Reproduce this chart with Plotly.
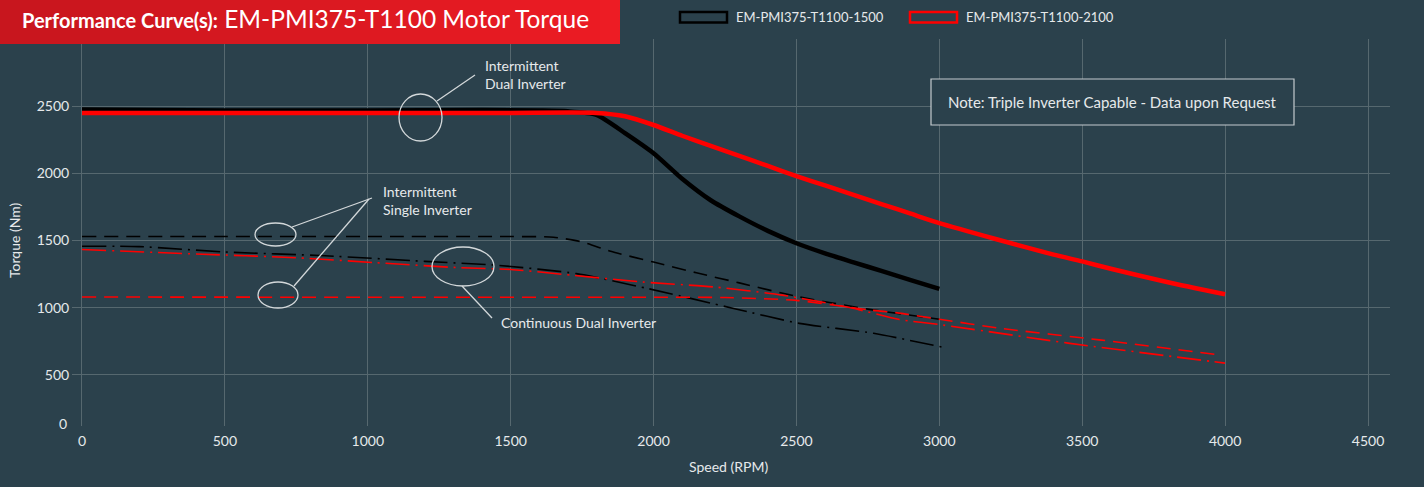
import plotly.graph_objects as go

# ---------------- data ----------------
speed_int_dual_1500 = [0, 250, 500, 1000, 1400, 1600, 1700, 1800, 1900, 2000, 2100, 2200, 2300, 2400, 2500, 2600, 2700, 2800, 2900, 3000]
torque_int_dual_1500 = [2475, 2472, 2468, 2468, 2472, 2468, 2462, 2435, 2300, 2150, 1960, 1800, 1680, 1572, 1480, 1405, 1338, 1272, 1205, 1140]

speed_int_dual_2100 = [0, 500, 1000, 1500, 1800, 1900, 2000, 2100, 2200, 2300, 2400, 2500, 2600, 2700, 2800, 2900, 3000, 3200, 3400, 3500, 3600, 3800, 4000]
torque_int_dual_2100 = [2450, 2450, 2450, 2450, 2450, 2425, 2360, 2280, 2205, 2130, 2055, 1980, 1910, 1840, 1770, 1700, 1630, 1510, 1395, 1345, 1290, 1190, 1100]

speed_int_single_1500 = [0, 500, 1000, 1500, 1650, 1750, 1850, 2000, 2150, 2300, 2500, 2750, 3000]
torque_int_single_1500 = [1530, 1530, 1530, 1530, 1525, 1490, 1420, 1340, 1260, 1185, 1085, 990, 915]

speed_int_single_2100 = [0, 1000, 2000, 2250, 2500, 2750, 2860, 3000, 3210, 3560, 3970]
torque_int_single_2100 = [1080, 1078, 1078, 1076, 1055, 985, 960, 915, 848, 761, 652]

speed_cont_dual_1500 = [0, 200, 500, 850, 1200, 1460, 1730, 1980, 2280, 2510, 2770, 3010]
torque_cont_dual_1500 = [1458, 1455, 1415, 1387, 1345, 1315, 1254, 1143, 995, 884, 810, 707]

speed_cont_dual_2100 = [0, 400, 750, 1030, 1320, 1500, 1720, 1960, 2210, 2450, 2690, 2860, 3000, 3450, 3950, 4000]
torque_cont_dual_2100 = [1433, 1400, 1372, 1335, 1298, 1285, 1241, 1192, 1155, 1094, 1000, 912, 875, 737, 601, 588]

x_ticks = [0, 500, 1000, 1500, 2000, 2500, 3000, 3500, 4000, 4500]
y_ticks = [500, 1000, 1500, 2000, 2500, 3000]
y_tick_text = ["500", "1000", "1500", "2000", "2500", ""]

legend_names = ["EM-PMI375-T1100-1500", "EM-PMI375-T1100-2100"]

# ---------------- style ----------------
BG = "#2b414c"
GRID = "#56686f"
TXT = "#e6e9eb"
ANN = "#d3d8da"
FONT = "Lato"
W, H = 1424, 487
L, R, T, B = 82, 1390, 39, 426


def PX(x):
    return (x - L) / (R - L)


def PY(y):
    return (B - y) / (B - T)


fig = go.Figure()

def add(xs, ys, color, width, dash="solid"):
    fig.add_trace(go.Scatter(x=xs, y=ys, mode="lines", showlegend=False,
                             line=dict(color=color, width=width, dash=dash, shape="spline", smoothing=0.6),
                             hoverinfo="skip"))

DASH = "14px,8px"
DASHDOT = "24px,6px,2px,6px"
add(speed_int_single_1500, torque_int_single_1500, "#000000", 1.6, DASH)
add(speed_cont_dual_1500, torque_cont_dual_1500, "#000000", 1.6, DASHDOT)
add(speed_int_single_2100, torque_int_single_2100, "#ff0000", 1.6, DASH)
add(speed_cont_dual_2100, torque_cont_dual_2100, "#ff0000", 1.6, DASHDOT)
add(speed_int_dual_1500, torque_int_dual_1500, "#000000", 4.5)
add(speed_int_dual_2100, torque_int_dual_2100, "#ff0000", 4.5)

shapes = []
annotations = []

# title bar gradient
n = 31
for i in range(n):
    t = i / (n - 1)
    r = int(200 + (237 - 200) * t)
    g = int(22 + (28 - 22) * t)
    b = int(30 + (36 - 30) * t)
    shapes.append(dict(type="rect", xref="paper", yref="paper",
                       x0=PX(i * 20), x1=PX(min(620, i * 20 + 21)), y0=PY(44), y1=PY(0),
                       fillcolor=f"rgb({r},{g},{b})", line=dict(width=0), layer="above"))
annotations.append(dict(xref="paper", yref="paper", x=PX(20), y=PY(19), xanchor="left", yanchor="middle",
                        text="<b><span style='font-size:20px'>Performance Curve(s):</span></b>"
                             "<span style='font-size:24.5px'> EM-PMI375-T1100 Motor Torque</span>",
                        showarrow=False, font=dict(family=FONT, size=23, color="#ffffff")))

# legend (manual)
for (x0, col, name) in [(680, "#000000", legend_names[0]), (910, "#ff0000", legend_names[1])]:
    shapes.append(dict(type="rect", xref="paper", yref="paper", x0=PX(x0), x1=PX(x0 + 47),
                       y0=PY(22.5), y1=PY(12), line=dict(color=col, width=2.5), fillcolor=BG))
    annotations.append(dict(xref="paper", yref="paper", x=PX(x0 + 54), y=PY(17), xanchor="left", yanchor="middle",
                            text=name, showarrow=False, font=dict(family=FONT, size=13, color=TXT)))

# note box
shapes.append(dict(type="rect", xref="paper", yref="paper", x0=PX(931), x1=PX(1294), y0=PY(125), y1=PY(79),
                   line=dict(color="#c3cacd", width=1.2), fillcolor=BG))
annotations.append(dict(xref="paper", yref="paper", x=PX(1112), y=PY(102), xanchor="center", yanchor="middle",
                        text="Note: Triple Inverter Capable - Data upon Request", showarrow=False,
                        font=dict(family=FONT, size=15, color=TXT)))

# callouts
def ellipse(x0, x1, y0, y1):
    shapes.append(dict(type="circle", xref="paper", yref="paper", x0=PX(x0), x1=PX(x1), y0=PY(y1), y1=PY(y0),
                       line=dict(color=ANN, width=1.3)))

def seg(x0, y0, x1, y1):
    shapes.append(dict(type="line", xref="paper", yref="paper", x0=PX(x0), x1=PX(x1), y0=PY(y0), y1=PY(y1),
                       line=dict(color=ANN, width=1.3)))

def label(x, y, text):
    annotations.append(dict(xref="paper", yref="paper", x=PX(x), y=PY(y), xanchor="left", yanchor="middle",
                            text=text, showarrow=False, align="left",
                            font=dict(family=FONT, size=14, color=TXT)))

ellipse(399, 442, 94, 141)
seg(437, 101, 475, 75)
label(483, 74, "Intermittent<br>Dual Inverter")

ellipse(255, 296, 223, 246)
ellipse(258, 298, 282, 308)
seg(292, 227, 372, 198)
seg(294, 286, 369, 199)
label(381, 200, "Intermittent<br>Single Inverter")

ellipse(432, 494, 247, 286)
seg(462, 286, 492, 318)
label(499, 322, "Continuous Dual Inverter")

# axis titles and the "0" label
annotations.append(dict(xref="paper", yref="paper", x=PX(14), y=PY(240), xanchor="center", yanchor="middle",
                        text="Torque (Nm)", textangle=-90, showarrow=False,
                        font=dict(family=FONT, size=14, color=TXT)))
annotations.append(dict(xref="paper", yref="paper", x=PX(728), y=PY(466), xanchor="center", yanchor="middle",
                        text="Speed (RPM)", showarrow=False, font=dict(family=FONT, size=14, color=TXT)))
annotations.append(dict(xref="paper", yref="paper", x=PX(69), y=PY(423), xanchor="right", yanchor="middle",
                        text="0", showarrow=False, font=dict(family=FONT, size=14, color=TXT)))

fig.update_layout(
    width=W, height=H,
    margin=dict(l=L, r=W - R, t=T, b=H - B, pad=0),
    paper_bgcolor=BG, plot_bgcolor=BG,
    font=dict(family=FONT, size=14, color=TXT),
    shapes=shapes, annotations=annotations,
    showlegend=False,
)
fig.update_xaxes(range=[0, 4577], tickvals=x_ticks, showgrid=True, gridcolor=GRID, gridwidth=1,
                 zeroline=False, showline=False, ticks="", ticklabelstandoff=5,
                 tickfont=dict(family=FONT, size=14, color=TXT), fixedrange=True)
fig.update_yaxes(range=[120, 3000], tickvals=y_ticks, ticktext=y_tick_text, showgrid=True, gridcolor=GRID,
                 gridwidth=1, zeroline=False, showline=True, linecolor=GRID, linewidth=1,
                 ticks="outside", ticklen=9, tickcolor=GRID, tickwidth=1,
                 tickfont=dict(family=FONT, size=14, color=TXT), fixedrange=True)

fig.write_html("out.html", config={"displayModeBar": False},
               post_script="document.body.style.margin='0';document.body.style.background='%s';" % BG)
